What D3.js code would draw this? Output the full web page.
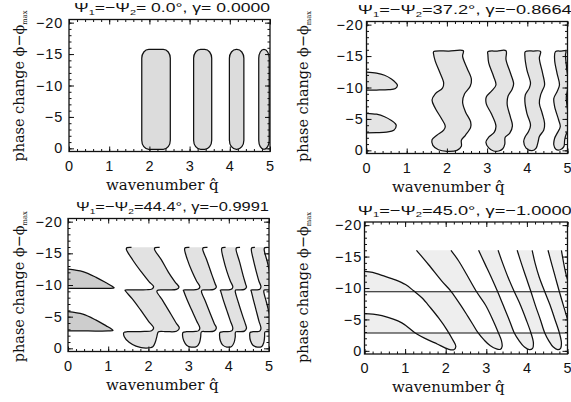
<!DOCTYPE html>
<html>
<head>
<meta charset="utf-8">
<script src="https://cdn.jsdelivr.net/npm/d3@7"></script>
<style>
  body { margin: 0; background: #fff; }
  svg { display: block; }
</style>
</head>
<body>
<div class="canvas"></div>
<script>
// axes
const qDomain = [0, 5];
const phaseDomain = [0.5, -20.5];
const qTicks = [0, 1, 2, 3, 4, 5];
const phaseTicks = [0, -5, -10, -15, -20];
const psiLabels = [" 0.0", "37.2", "44.4", "45.0"];
const gammaLabels = [" 0.0000", "−0.8664", "−0.9991", "−1.0000"];

// panel a (gamma = 0): unstable bands
const bandLeftA = [1.81, 3.10, 3.99, 4.72];
const bandRightA = [2.52, 3.55, 4.35, 4.98];
const bandPhaseA = [-15.75, 0.15];

// panel b (gamma = -0.8664)
const lobeUpperB = [[0, -12.45], [0.25, -12.3], [0.45, -11.95], [0.62, -11.35], [0.73, -10.75], [0.77, -10.35], [0.72, -9.85], [0.55, -9.65], [0.25, -9.6], [0, -9.6]];
const lobeLowerB = [[0, -5.9], [0.25, -5.75], [0.45, -5.35], [0.62, -4.75], [0.71, -4.3], [0.74, -3.95], [0.68, -3.2], [0.5, -2.9], [0.25, -2.82], [0, -2.8]];
const columnB1 = [[1.67, -15.7], [2.05, -15.8], [2.41, -15.85], [2.39, -15.0], [2.50, -13.1], [2.61, -11.3], [2.58, -10.2], [2.44, -9.0], [2.39, -7.75], [2.46, -6.15], [2.59, -4.55], [2.59, -3.65], [2.46, -2.4], [2.36, -1.6], [2.36, -0.65], [2.25, 0.0], [2.0, 0.15], [1.79, -0.1], [1.65, -0.8], [1.63, -1.7], [1.75, -2.4], [1.92, -3.2], [1.96, -3.85], [1.86, -5.1], [1.71, -6.7], [1.63, -8.0], [1.71, -9.0], [1.89, -9.9], [1.92, -10.7], [1.83, -12.3], [1.71, -14.2], [1.67, -15.25]];
const columnB2 = [[3.02, -15.7], [3.25, -15.8], [3.47, -15.85], [3.47, -14.45], [3.58, -12.3], [3.66, -10.6], [3.62, -9.7], [3.52, -8.6], [3.50, -7.3], [3.58, -5.3], [3.63, -3.9], [3.56, -2.7], [3.45, -2.1], [3.44, -1.0], [3.39, -0.25], [3.29, 0.1], [3.16, 0.1], [3.04, -0.4], [2.97, -1.3], [3.04, -2.1], [3.18, -2.9], [3.22, -3.9], [3.10, -5.9], [2.98, -7.4], [2.98, -8.5], [3.12, -9.5], [3.22, -10.4], [3.16, -11.8], [3.04, -13.9], [3.02, -15.2]];
const columnB3 = [[3.95, -15.7], [4.15, -15.8], [4.33, -15.75], [4.30, -14.65], [4.38, -12.3], [4.43, -10.4], [4.38, -9.6], [4.33, -8.8], [4.30, -7.5], [4.37, -5.9], [4.43, -4.3], [4.41, -3.25], [4.30, -2.2], [4.27, -1.4], [4.22, -0.35], [4.12, 0.05], [3.97, -0.35], [3.91, -1.4], [3.95, -2.2], [4.03, -3.0], [4.08, -4.0], [3.99, -5.9], [3.94, -7.75], [3.95, -8.8], [4.05, -9.9], [4.08, -10.7], [3.99, -12.8], [3.94, -15.0]];
const columnB4 = [[4.70, -15.7], [4.84, -15.8], [4.96, -15.8], [4.95, -15.2], [4.98, -13.0], [5.02, -10.5], [4.97, -8.5], [4.98, -7.5], [5.03, -5.0], [5.03, -3.5], [4.96, -2.44], [4.93, -1.65], [4.91, -0.59], [4.82, -0.1], [4.71, -0.17], [4.66, -0.85], [4.68, -1.92], [4.74, -2.7], [4.82, -3.76], [4.78, -4.83], [4.68, -6.95], [4.66, -8.28], [4.74, -9.33], [4.80, -10.4], [4.74, -12.26], [4.68, -14.37]];

// panel c (gamma = -0.9991)
const lobeUpperC = [[0, -12.5], [0.37, -12.1], [0.7, -11.2], [0.95, -10.35], [1.1, -9.8], [1.15, -9.55], [1.0, -9.48], [0.5, -9.48], [0, -9.48]];
const lobeLowerC = [[0, -5.8], [0.37, -5.4], [0.7, -4.45], [0.95, -3.55], [1.08, -3.05], [1.12, -2.8], [1.0, -2.74], [0.5, -2.74], [0, -2.74]];
const columnC1 = [[2.28, -15.95], [2.17, -15.9], [2.15, -15.7], [2.32, -14.0], [2.5, -12.0], [2.66, -10.5], [2.76, -9.65], [2.7, -9.3], [2.45, -9.22], [2.24, -9.2], [2.21, -9.0], [2.36, -7.5], [2.55, -5.5], [2.69, -4.0], [2.77, -3.2], [2.7, -2.7], [2.45, -2.63], [2.25, -2.6], [2.21, -1.85], [2.17, -0.95], [2.11, -0.26], [1.94, -0.05], [1.69, -0.36], [1.52, -0.95], [1.40, -1.84], [1.39, -2.5], [1.48, -2.63], [1.9, -2.66], [2.08, -2.78], [2.13, -3.2], [2.0, -4.3], [1.8, -6.1], [1.6, -7.8], [1.43, -9.05], [1.42, -9.2], [1.55, -9.22], [1.95, -9.25], [2.09, -9.38], [2.13, -9.75], [2.02, -10.5], [1.82, -12.1], [1.61, -13.95], [1.45, -15.7], [1.47, -15.9], [1.58, -15.95]];
const columnC2 = [[3.47, -15.95], [3.37, -15.9], [3.35, -15.7], [3.46, -13.8], [3.58, -11.6], [3.66, -10.2], [3.69, -9.65], [3.63, -9.3], [3.45, -9.22], [3.34, -9.2], [3.32, -9.0], [3.42, -7.4], [3.55, -5.3], [3.64, -3.9], [3.69, -3.2], [3.63, -2.72], [3.45, -2.63], [3.32, -2.6], [3.30, -1.8], [3.27, -0.9], [3.2, -0.3], [3.06, -0.2], [2.95, -0.5], [2.88, -1.2], [2.85, -2.0], [2.86, -2.5], [2.95, -2.63], [3.18, -2.66], [3.25, -2.8], [3.28, -3.2], [3.2, -4.3], [3.08, -6.0], [2.96, -7.7], [2.88, -9.0], [2.87, -9.2], [2.97, -9.22], [3.18, -9.26], [3.25, -9.4], [3.28, -9.75], [3.2, -10.6], [3.08, -12.2], [2.97, -14.0], [2.9, -15.7], [2.92, -15.9], [3.02, -15.95]];
const columnC3 = [[4.28, -15.95], [4.2, -15.9], [4.18, -15.7], [4.27, -13.6], [4.36, -11.4], [4.42, -10.1], [4.44, -9.65], [4.39, -9.3], [4.25, -9.22], [4.17, -9.2], [4.16, -9.0], [4.24, -7.2], [4.34, -5.2], [4.41, -3.9], [4.44, -3.2], [4.39, -2.72], [4.26, -2.63], [4.17, -2.6], [4.16, -1.8], [4.13, -0.9], [4.07, -0.3], [3.95, -0.2], [3.85, -0.5], [3.79, -1.2], [3.77, -2.0], [3.78, -2.5], [3.86, -2.63], [4.03, -2.66], [4.08, -2.8], [4.1, -3.2], [4.04, -4.3], [3.95, -6.0], [3.86, -7.7], [3.8, -9.0], [3.79, -9.2], [3.87, -9.22], [4.03, -9.26], [4.08, -9.4], [4.1, -9.75], [4.04, -10.6], [3.95, -12.2], [3.87, -14.0], [3.82, -15.7], [3.84, -15.9], [3.92, -15.95]];
const columnC4 = [[4.97, -15.95], [4.9, -15.9], [4.88, -15.7], [4.96, -13.6], [5.04, -11.4], [5.09, -10.1], [5.1, -9.65], [5.06, -9.3], [4.95, -9.22], [4.88, -9.2], [4.87, -9.0], [4.94, -7.2], [5.02, -5.2], [5.08, -3.9], [5.1, -3.2], [5.06, -2.72], [4.96, -2.63], [4.9, -2.6], [4.89, -1.8], [4.87, -0.9], [4.82, -0.3], [4.71, -0.2], [4.6, -0.5], [4.54, -1.2], [4.52, -2.0], [4.53, -2.5], [4.6, -2.63], [4.74, -2.66], [4.78, -2.8], [4.8, -3.2], [4.75, -4.3], [4.68, -6.0], [4.61, -7.7], [4.56, -9.0], [4.55, -9.2], [4.62, -9.22], [4.74, -9.26], [4.78, -9.4], [4.8, -9.75], [4.75, -10.6], [4.68, -12.2], [4.61, -14.0], [4.56, -15.7], [4.58, -15.9], [4.65, -15.95]];

// panel d (gamma = -1)
const flatLevelsD = [-9.4, -2.85];
const loopD = [[0, -12.65], [0.2, -12.5], [0.43, -12.0], [0.76, -11.3], [1.01, -10.55], [1.21, -9.55], [1.42, -8.4], [1.62, -6.9], [1.83, -5.2], [2.03, -3.35], [2.17, -1.8], [2.25, -0.7], [2.2, -0.17], [2.05, -0.3], [1.79, -1.1], [1.58, -1.7], [1.25, -2.85], [0.92, -4.45], [0.43, -5.6], [0.2, -5.85], [0, -5.92]];
const curveD2 = [[1.28, -16.0], [1.58, -13.7], [1.91, -11.06], [2.14, -9.4], [2.36, -7.35], [2.52, -5.75], [2.67, -4.2], [2.8, -2.85], [2.95, -1.7], [3.1, -0.8], [3.25, -0.3], [3.35, -0.25], [3.39, -0.7], [3.37, -1.7], [3.3, -2.85], [3.17, -4.8], [2.98, -7.3], [2.76, -9.4], [2.52, -12.1], [2.32, -14.3], [2.13, -16.0]];
const curveD3 = [[2.81, -16.0], [2.97, -13.8], [3.13, -11.6], [3.28, -9.4], [3.42, -7.2], [3.56, -5.0], [3.69, -2.85], [3.81, -1.6], [3.94, -0.6], [4.06, -0.2], [4.14, -0.4], [4.16, -1.3], [4.10, -2.85], [3.98, -5.0], [3.84, -7.3], [3.69, -9.4], [3.53, -11.8], [3.4, -14.0], [3.29, -16.0]];
const curveD4 = [[3.76, -16.0], [3.88, -13.6], [3.99, -11.5], [4.10, -9.4], [4.21, -7.2], [4.33, -5.0], [4.44, -2.85], [4.54, -1.6], [4.65, -0.6], [4.76, -0.2], [4.83, -0.4], [4.85, -1.3], [4.80, -2.85], [4.69, -5.0], [4.57, -7.3], [4.44, -9.4], [4.3, -11.8], [4.2, -14.0], [4.13, -16.0]];
const curveD5 = [[4.52, -16.0], [4.62, -13.6], [4.71, -11.5], [4.80, -9.4], [4.9, -7.2], [5.0, -5.0], [5.1, -2.85], [5.3, -0.2], [5.4, -2.0], [5.3, -6.0], [5.1, -9.4], [4.97, -12.0], [4.85, -16.0]];

const width = 571;
const height = 402;
const ink = "#111";
const sansFont = "'Liberation Sans', Arial, sans-serif";
const serifFont = "'DejaVu Serif', serif";

const layout = [
  { x: 69, y: 19.5, w: 201, h: 132, tx: 74, tlen: 196, xtx: 106, ytx: 24, yty: 86, gap: 6 },
  { x: 366.5, y: 21.5, w: 201, h: 132, tx: 357.7, tlen: 214, xtx: 392, ytx: 307.5, yty: 86.5, gap: 3 },
  { x: 68, y: 218.5, w: 201, h: 133, tx: 76, tlen: 193, xtx: 106, ytx: 23.5, yty: 286.7, gap: 5.5 },
  { x: 364.5, y: 222, w: 203, h: 132, tx: 357.7, tlen: 214, xtx: 392, ytx: 308, yty: 287.5, gap: 2.5 }
];

const svg = d3.select(".canvas").append("svg")
  .attr("width", width)
  .attr("height", height);
const defs = svg.append("defs");

const smooth = d3.curveCatmullRom.alpha(0.5);
const smoothClosed = d3.curveCatmullRomClosed.alpha(0.5);
const minus = (d) => (d < 0 ? "−" + Math.abs(d) : String(d));

function setupPanel(i) {
  const p = layout[i];
  const x = d3.scaleLinear().domain(qDomain).range([p.x, p.x + p.w]);
  const y = d3.scaleLinear().domain(phaseDomain).range([p.y + p.h, p.y]);
  defs.append("clipPath").attr("id", "clip" + i)
    .append("rect").attr("x", p.x).attr("y", p.y).attr("width", p.w).attr("height", p.h);
  const g = svg.append("g");
  const plot = g.append("g").attr("clip-path", `url(#clip${i})`);
  const line = (curve) => d3.line().x((d) => x(d[0])).y((d) => y(d[1])).curve(curve);
  return { i, p, x, y, g, plot, line };
}

function bandClip(panel, name, v0, v1) {
  const { p, y } = panel;
  const top = Math.max(p.y, Math.min(y(v0), y(v1)));
  const bot = Math.min(p.y + p.h, Math.max(y(v0), y(v1)));
  defs.append("clipPath").attr("id", name)
    .append("rect").attr("x", p.x).attr("y", top).attr("width", p.w).attr("height", bot - top);
  return panel.plot.append("g").attr("clip-path", `url(#${name})`);
}

function drawAxes(panel) {
  const { i, p, x, y, g } = panel;
  const bottom = p.y + p.h;
  const right = p.x + p.w;
  const qMinor = d3.range(0, 5.0001, 0.2);
  const phaseMinor = d3.range(-20, 0.0001, 1);
  const ax = (axis, tx, ty) => g.append("g")
    .attr("transform", `translate(${tx},${ty})`)
    .call(axis)
    .call((s) => s.select(".domain").remove())
    .call((s) => s.selectAll("line").attr("stroke", ink).attr("stroke-width", 1));

  ax(d3.axisBottom(x).tickValues(qMinor).tickSize(-2.5).tickFormat(""), 0, bottom);
  ax(d3.axisTop(x).tickValues(qMinor).tickSize(-2.5).tickFormat(""), 0, p.y);
  ax(d3.axisLeft(y).tickValues(phaseMinor).tickSize(-2.5).tickFormat(""), p.x, 0);
  ax(d3.axisRight(y).tickValues(phaseMinor).tickSize(-2.5).tickFormat(""), right, 0);

  const xl = ax(d3.axisBottom(x).tickValues(qTicks).tickSize(-5).tickPadding(8.8).tickFormat(minus), 0, bottom);
  ax(d3.axisTop(x).tickValues(qTicks).tickSize(-5).tickFormat(""), 0, p.y);
  const yl = ax(d3.axisLeft(y).tickValues(phaseTicks).tickSize(-5).tickPadding(p.gap).tickFormat(minus), p.x, 0);
  ax(d3.axisRight(y).tickValues(phaseTicks).tickSize(-5).tickFormat(""), right, 0);

  [xl, yl].forEach((s) => s.attr("font-family", sansFont).attr("font-size", 14.5)
    .selectAll("text").attr("fill", ink).attr("letter-spacing", 0.8));

  g.append("rect")
    .attr("x", p.x).attr("y", p.y).attr("width", p.w).attr("height", p.h)
    .attr("fill", "none").attr("stroke", ink).attr("stroke-width", 1.3);

  // title
  const t = svg.append("text")
    .attr("x", p.tx).attr("y", p.y - 7.5)
    .attr("font-family", sansFont).attr("font-size", 13)
    .attr("textLength", p.tlen).attr("lengthAdjust", "spacingAndGlyphs")
    .attr("fill", ink)
    .style("white-space", "pre");
  t.append("tspan").text("Ψ");
  t.append("tspan").attr("font-size", 8).attr("dy", 2.5).text("1");
  t.append("tspan").attr("dy", -2.5).text("=−Ψ");
  t.append("tspan").attr("font-size", 8).attr("dy", 2.5).text("2");
  t.append("tspan").attr("dy", -2.5).text(`=${psiLabels[i]}°, γ=${gammaLabels[i]}`);

  // axis titles
  svg.append("text")
    .attr("x", p.xtx).attr("y", bottom + 38)
    .attr("font-family", serifFont).attr("font-size", 15)
    .attr("fill", ink)
    .text("wavenumber q\u0302");

  const yt = svg.append("text")
    .attr("transform", `translate(${p.ytx},${p.yty}) rotate(-90)`)
    .attr("text-anchor", "middle")
    .attr("font-family", serifFont).attr("font-size", 15)
    .attr("textLength", 151).attr("lengthAdjust", "spacingAndGlyphs")
    .attr("fill", ink);
  yt.append("tspan").text("phase change ϕ−ϕ");
  yt.append("tspan").attr("font-size", 7).attr("dy", 3).text("max");
}

function drawShape(panel, pts, fill, closed) {
  const d = closed ? panel.line(smoothClosed)(pts) : panel.line(smooth)(pts) + "Z";
  panel.plot.append("path").attr("d", d).attr("fill", fill).attr("stroke", "none");
  panel.plot.append("path")
    .attr("d", closed ? d : panel.line(smooth)(pts))
    .attr("fill", "none").attr("stroke", ink).attr("stroke-width", 1.25)
    .attr("stroke-linejoin", "round");
}

// panel a
const pa = setupPanel(0);
pa.plot.selectAll("rect.band")
  .data(bandLeftA.map((l, k) => [l, bandRightA[k]]))
  .enter().append("rect")
  .attr("class", "band")
  .attr("x", (d) => pa.x(d[0]))
  .attr("width", (d) => pa.x(d[1]) - pa.x(d[0]))
  .attr("y", pa.y(bandPhaseA[0]))
  .attr("height", pa.y(bandPhaseA[1]) - pa.y(bandPhaseA[0]))
  .attr("rx", (d) => Math.min(7, (pa.x(d[1]) - pa.x(d[0])) / 2))
  .attr("ry", 9)
  .attr("fill", "#dcdcdc")
  .attr("stroke", ink)
  .attr("stroke-width", 1.25);
drawAxes(pa);

// panel b
const pb = setupPanel(1);
[lobeUpperB, lobeLowerB].forEach((s) => drawShape(pb, s, "#e4e4e4", false));
[columnB1, columnB2, columnB3, columnB4].forEach((s) => drawShape(pb, s, "#e4e4e4", true));
drawAxes(pb);

// panel c
const pc = setupPanel(2);
[lobeUpperC, lobeLowerC].forEach((s) => drawShape(pc, s, "#cdcdcd", false));
[columnC1, columnC2, columnC3, columnC4].forEach((s) => drawShape(pc, s, "#e2e2e2", false));
drawAxes(pc);

// panel d: shading alternates across the two flat contours
const pd = setupPanel(3);
const shadeD = "#eeeeee";
const curvesD = [loopD, curveD2, curveD3, curveD4, curveD5];
const topBand = bandClip(pd, "bandTop", -21, flatLevelsD[0]);
const midBand = bandClip(pd, "bandMid", flatLevelsD[0], flatLevelsD[1]);
const lowBand = bandClip(pd, "bandLow", flatLevelsD[1], 1);
midBand.append("rect")
  .attr("x", pd.x(0)).attr("width", pd.x(5) - pd.x(0))
  .attr("y", pd.y(flatLevelsD[0])).attr("height", pd.y(flatLevelsD[1]) - pd.y(flatLevelsD[0]))
  .attr("fill", shadeD);
curvesD.forEach((c) => {
  const d = pd.line(smooth)(c) + "Z";
  topBand.append("path").attr("d", d).attr("fill", shadeD);
  lowBand.append("path").attr("d", d).attr("fill", shadeD);
  midBand.append("path").attr("d", d).attr("fill", "#fff");
});
curvesD.forEach((c) => {
  pd.plot.append("path")
    .attr("d", pd.line(smooth)(c))
    .attr("fill", "none").attr("stroke", ink).attr("stroke-width", 1.25);
});
pd.plot.selectAll("line.flat")
  .data(flatLevelsD)
  .enter().append("line")
  .attr("class", "flat")
  .attr("x1", pd.x(0)).attr("x2", pd.x(5))
  .attr("y1", (d) => pd.y(d)).attr("y2", (d) => pd.y(d))
  .attr("stroke", ink).attr("stroke-width", 1.1);
drawAxes(pd);
</script>
</body>
</html>
